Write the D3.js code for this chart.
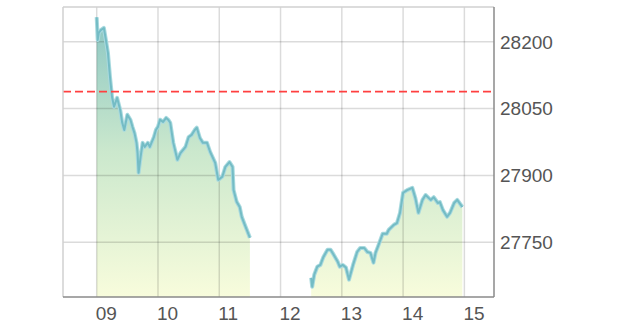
<!DOCTYPE html>
<html lang="ja">
<head>
<meta charset="UTF-8" />
<title>Intraday chart</title>
<style>
  body { margin: 0; background: #fff; }
  svg { display: block; font-family: "Liberation Sans", sans-serif; }
</style>
</head>
<body>
<svg id="chart" width="620" height="331"></svg>
<script src="https://d3js.org/d3.v7.min.js"></script>
<script>
// morning session (time, price)
const amTimes = ['09:00','09:01','09:02','09:04','09:07','09:09','09:11','09:13','09:15','09:17',
  '09:20','09:23','09:25','09:27','09:30','09:33','09:35','09:37','09:39','09:40',
  '09:41','09:43','09:45','09:47','09:50','09:52','09:54','09:56','09:58','10:00',
  '10:02','10:05','10:08','10:10','10:12','10:15','10:19','10:22','10:27','10:30',
  '10:33','10:36','10:38','10:41','10:44','10:48','10:51','10:56','10:59','11:03',
  '11:06','11:10','11:13','11:14','11:17','11:20','11:22','11:25','11:30'];
const amPrices = [28255,28204,28220,28226,28231,28204,28175,28121,28076,28054,
  28074,28047,28018,28002,28036,28025,28009,27995,27973,27950,
  27906,27942,27973,27964,27973,27964,27975,27986,28002,28009,
  28025,28020,28029,28025,28018,27973,27935,27950,27964,27986,
  27991,28002,28007,27984,27973,27973,27953,27928,27890,27897,
  27919,27930,27919,27867,27841,27829,27807,27789,27760];

// afternoon session
const pmTimes = ['12:30','12:31','12:33','12:36','12:39','12:42','12:46','12:49','12:52','12:56',
  '12:58','13:01','13:04','13:07','13:11','13:15','13:18','13:22','13:25','13:28',
  '13:31','13:33','13:36','13:40','13:44','13:46','13:51','13:54','13:57','14:00',
  '14:04','14:09','14:12','14:15','14:19','14:22','14:27','14:30','14:34','14:36',
  '14:39','14:43','14:46','14:50','14:53','14:58'];
const pmPrices = [27670,27650,27677,27695,27699,27717,27733,27733,27722,27706,
  27695,27699,27693,27666,27699,27728,27737,27737,27728,27726,
  27704,27726,27744,27769,27769,27778,27789,27793,27816,27861,
  27867,27872,27849,27816,27845,27856,27845,27851,27838,27840,
  27822,27807,27816,27838,27845,27829];

const hourTicks = [9, 10, 11, 12, 13, 14, 15];
const hourLabels = ['09', '10', '11', '12', '13', '14', '15'];
const priceTicks = [27750, 27900, 28050, 28200];
const prevClose = 28088;

const toMin = s => { const [h, m] = s.split(':').map(Number); return h * 60 + m; };
const am = amTimes.map((t, i) => ({ t: toMin(t), v: amPrices[i] }));
const pm = pmTimes.map((t, i) => ({ t: toMin(t), v: pmPrices[i] }));

const pL = 63, pR = 494, pT = 7, pB = 297;
const svg = d3.select('#chart');

const x = d3.scaleLinear().domain([507, 929]).range([pL, pR]);
const y = d3.scaleLinear().domain([27627, 28278]).range([pB, pT]);

const defs = svg.append('defs');
const grad = defs.append('linearGradient')
  .attr('id', 'fillGrad')
  .attr('gradientUnits', 'userSpaceOnUse')
  .attr('x1', 0).attr('x2', 0).attr('y1', pT).attr('y2', pB);
grad.append('stop').attr('offset', '0%').attr('stop-color', '#86c4c2');
grad.append('stop').attr('offset', '50%').attr('stop-color', '#cbe8cd');
grad.append('stop').attr('offset', '100%').attr('stop-color', '#f8fcdc');

const area = d3.area().x(d => x(d.t)).y0(pB).y1(d => y(d.v));
const line = d3.line().x(d => x(d.t)).y(d => y(d.v));

[am, pm].forEach(seg => {
  svg.append('path').datum(seg).attr('d', area).attr('fill', 'url(#fillGrad)');
});

// grid
svg.append('g').selectAll('line').data(hourTicks).join('line')
  .attr('x1', d => x(d * 60)).attr('x2', d => x(d * 60))
  .attr('y1', pT).attr('y2', pB)
  .attr('stroke', 'rgba(0,0,0,0.14)').attr('stroke-width', 1.5);
svg.append('g').selectAll('line').data(priceTicks).join('line')
  .attr('x1', pL).attr('x2', pR)
  .attr('y1', d => y(d)).attr('y2', d => y(d))
  .attr('stroke', 'rgba(0,0,0,0.14)').attr('stroke-width', 1.5);

[am, pm].forEach(seg => {
  svg.append('path').datum(seg).attr('d', line)
    .attr('fill', 'none').attr('stroke', '#a9dadf')
    .attr('stroke-width', 4).attr('stroke-linejoin', 'round');
  svg.append('path').datum(seg).attr('d', line)
    .attr('fill', 'none').attr('stroke', '#74bcc5')
    .attr('stroke-width', 2).attr('stroke-linejoin', 'round');
});

// previous close
svg.append('line')
  .attr('x1', pL).attr('x2', pR)
  .attr('y1', y(prevClose)).attr('y2', y(prevClose))
  .attr('stroke', '#ff4040').attr('stroke-width', 1.8)
  .attr('stroke-dasharray', '8,4');

// frame
svg.append('line').attr('x1', pL).attr('x2', pL).attr('y1', pT).attr('y2', pB)
  .attr('stroke', '#d0d0d0').attr('stroke-width', 1.5);
svg.append('line').attr('x1', pL).attr('x2', pR).attr('y1', pT).attr('y2', pT)
  .attr('stroke', '#d0d0d0').attr('stroke-width', 1.5);
svg.append('line').attr('x1', pR).attr('x2', pR).attr('y1', pT).attr('y2', pB)
  .attr('stroke', '#8a8a8a').attr('stroke-width', 1.5);
svg.append('line').attr('x1', pL).attr('x2', pR).attr('y1', pB).attr('y2', pB)
  .attr('stroke', '#8a8a8a').attr('stroke-width', 1.5);

// labels
svg.append('g').selectAll('text').data(priceTicks).join('text')
  .attr('x', 500).attr('y', d => y(d))
  .attr('dy', '0.36em')
  .attr('font-size', 19).attr('fill', '#555')
  .text(d => d);
svg.append('g').selectAll('text').data(hourTicks).join('text')
  .attr('x', d => x(d * 60) - 1).attr('y', 320)
  .attr('font-size', 19).attr('fill', '#555')
  .text((d, i) => hourLabels[i]);
</script>
</body>
</html>
